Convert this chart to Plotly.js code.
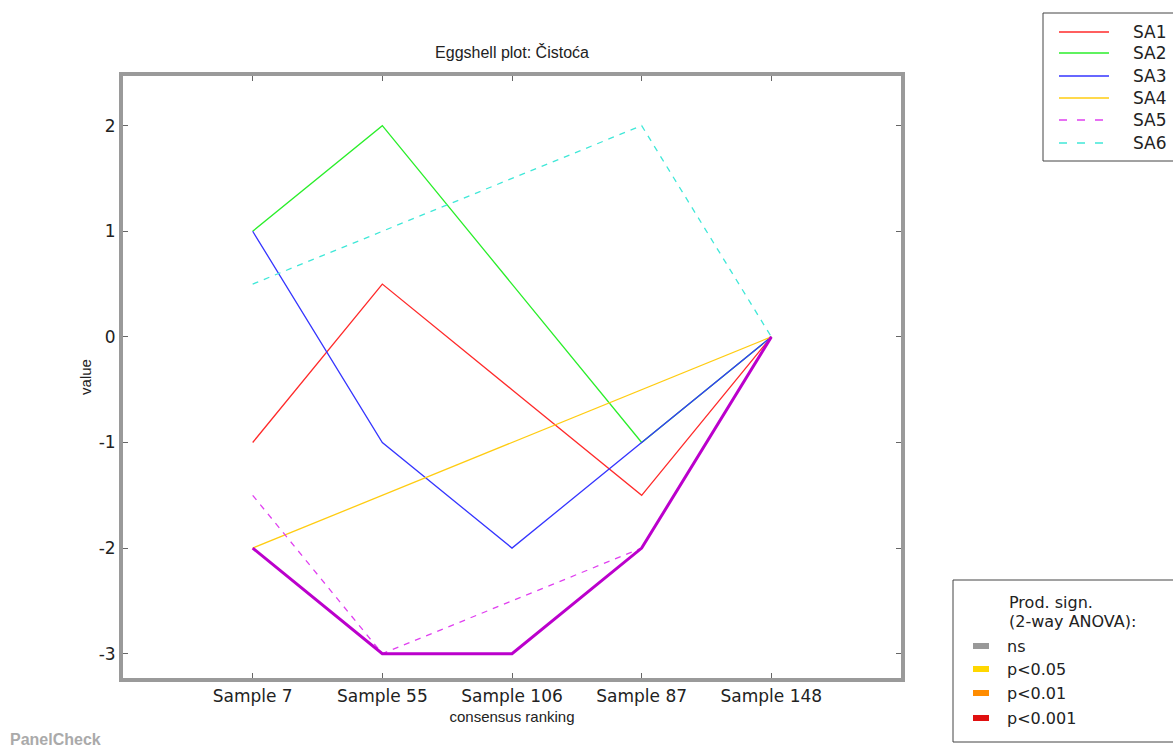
<!DOCTYPE html>
<html>
<head>
<meta charset="utf-8">
<script src="https://cdn.plot.ly/plotly-3.0.1.min.js"></script>
<style>html,body{margin:0;padding:0;background:#fff;}#chart{width:1173px;height:749px;}</style>
</head>
<body>
<div id="chart"></div>
<script>
// ---- data ----
const categories = ['Sample 7', 'Sample 55', 'Sample 106', 'Sample 87', 'Sample 148'];
const SA1 = [-1, 0.5, -0.5, -1.5, 0];
const SA2 = [1, 2, 0.5, -1, 0];
const SA3 = [1, -1, -2, -1, 0];
const SA4 = [-2, -1.5, -1, -0.5, 0];
const SA5 = [-1.5, -3, -2.5, -2, 0];
const SA6 = [0.5, 1, 1.5, 2, 0];
const consensus = [-2, -3, -3, -2, 0];
const seriesNames = ['SA1', 'SA2', 'SA3', 'SA4', 'SA5', 'SA6'];
const seriesData = [SA1, SA2, SA3, SA4, SA5, SA6];
const yTickVals = [-3, -2, -1, 0, 1, 2];
const yTickText = ['-3', '-2', '-1', '0', '1', '2'];
const sigLabels = ['ns', 'p<0.05', 'p<0.01', 'p<0.001'];

// ---- styles ----
const seriesColors = ['#ff2a2a', '#2aee2a', '#3535ff', '#ffcc11', '#e040f0', '#40e8d8'];
const seriesDash = ['solid', 'solid', 'solid', 'solid', '6px,6px', '6px,6px'];
const sigColors = ['#999999', '#ffd700', '#ff8c00', '#e01010'];

const W = 1173, H = 749;
const M = {l: 123, r: 272, t: 76, b: 71};
const PW = W - M.l - M.r, PH = H - M.t - M.b;
const px = x => (x - M.l) / PW;
const py = y => (H - M.b - y) / PH;

const traces = seriesData.map((vals, i) => ({
  type: 'scatter', mode: 'lines', x: categories, y: vals, name: seriesNames[i],
  line: {color: seriesColors[i], width: 1.3, dash: seriesDash[i]}, showlegend: false
}));
traces.push({
  type: 'scatter', mode: 'lines', x: categories, y: consensus, name: 'consensus',
  line: {color: '#bb00cc', width: 3}, showlegend: false
});

const shapes = [];
const annotations = [];
const txtFont = {family: 'DejaVu Sans', size: 16, color: '#222'};

// series legend
shapes.push({type: 'rect', xref: 'paper', yref: 'paper', x0: px(1043), x1: px(1190), y0: py(13), y1: py(161),
  line: {color: '#444', width: 1}, fillcolor: 'rgba(0,0,0,0)'});
const legY = [32, 53, 76, 98, 120, 143];
seriesNames.forEach((n, i) => {
  shapes.push({type: 'line', xref: 'paper', yref: 'paper', x0: px(1059), x1: px(1109), y0: py(legY[i]), y1: py(legY[i]),
    line: {color: seriesColors[i], width: 1.3, dash: seriesDash[i] === 'solid' ? 'solid' : '8px,10px'}});
  annotations.push({xref: 'paper', yref: 'paper', x: px(1131), y: py(legY[i]), xanchor: 'left', yanchor: 'middle',
    text: n, showarrow: false, font: {family: 'DejaVu Sans', size: 17, color: '#222'}});
});

// significance legend
shapes.push({type: 'rect', xref: 'paper', yref: 'paper', x0: px(953), x1: px(1190), y0: py(580), y1: py(742),
  line: {color: '#444', width: 1}, fillcolor: 'rgba(0,0,0,0)'});
annotations.push({xref: 'paper', yref: 'paper', x: px(1007), y: py(602), xanchor: 'left', yanchor: 'middle',
  text: 'Prod. sign.', showarrow: false, font: txtFont});
annotations.push({xref: 'paper', yref: 'paper', x: px(1007), y: py(621), xanchor: 'left', yanchor: 'middle',
  text: '(2-way ANOVA):', showarrow: false, font: txtFont});
const sigY = [646, 669, 693, 718];
sigLabels.forEach((s, i) => {
  shapes.push({type: 'rect', xref: 'paper', yref: 'paper', x0: px(973), x1: px(989), y0: py(sigY[i] - 3), y1: py(sigY[i] + 3),
    line: {width: 0}, fillcolor: sigColors[i]});
  annotations.push({xref: 'paper', yref: 'paper', x: px(1005), y: py(sigY[i]), xanchor: 'left', yanchor: 'middle',
    text: s, showarrow: false, font: txtFont});
});

annotations.push({xref: 'paper', yref: 'paper', x: px(8), y: py(739), xanchor: 'left', yanchor: 'middle',
  text: '<b>PanelCheck</b>', showarrow: false, font: {family: 'Liberation Sans', size: 16, color: '#aaaaaa'}});

const axisCommon = {
  showline: true, linewidth: 4, linecolor: '#9a9a9a', mirror: 'ticks',
  ticks: 'inside', ticklen: 5, tickwidth: 1, tickcolor: '#666',
  showgrid: false, zeroline: false,
  tickfont: {family: 'DejaVu Sans', size: 17, color: '#222'}
};

const layout = {
  width: W, height: H, margin: M,
  paper_bgcolor: '#fff', plot_bgcolor: '#fff', showlegend: false,
  title: {text: 'Eggshell plot: Čistoća', x: 0.5, xref: 'paper', y: 1 - 52 / H, yref: 'container',
    yanchor: 'middle', font: {family: 'Liberation Sans', size: 16, color: '#222'}},
  xaxis: Object.assign({}, axisCommon, {
    type: 'category', range: [-1, 5], categoryorder: 'array', categoryarray: categories,
    title: {text: 'consensus ranking', font: {family: 'Liberation Sans', size: 15, color: '#222'}, standoff: 7}
  }),
  yaxis: Object.assign({}, axisCommon, {
    range: [-3.23, 2.47], tickvals: yTickVals, ticktext: yTickText,
    title: {text: 'value', font: {family: 'Liberation Sans', size: 15, color: '#222'}, standoff: 4}
  }),
  shapes: shapes, annotations: annotations
};

Plotly.newPlot('chart', traces, layout, {displayModeBar: false, staticPlot: true});
</script>
</body>
</html>
